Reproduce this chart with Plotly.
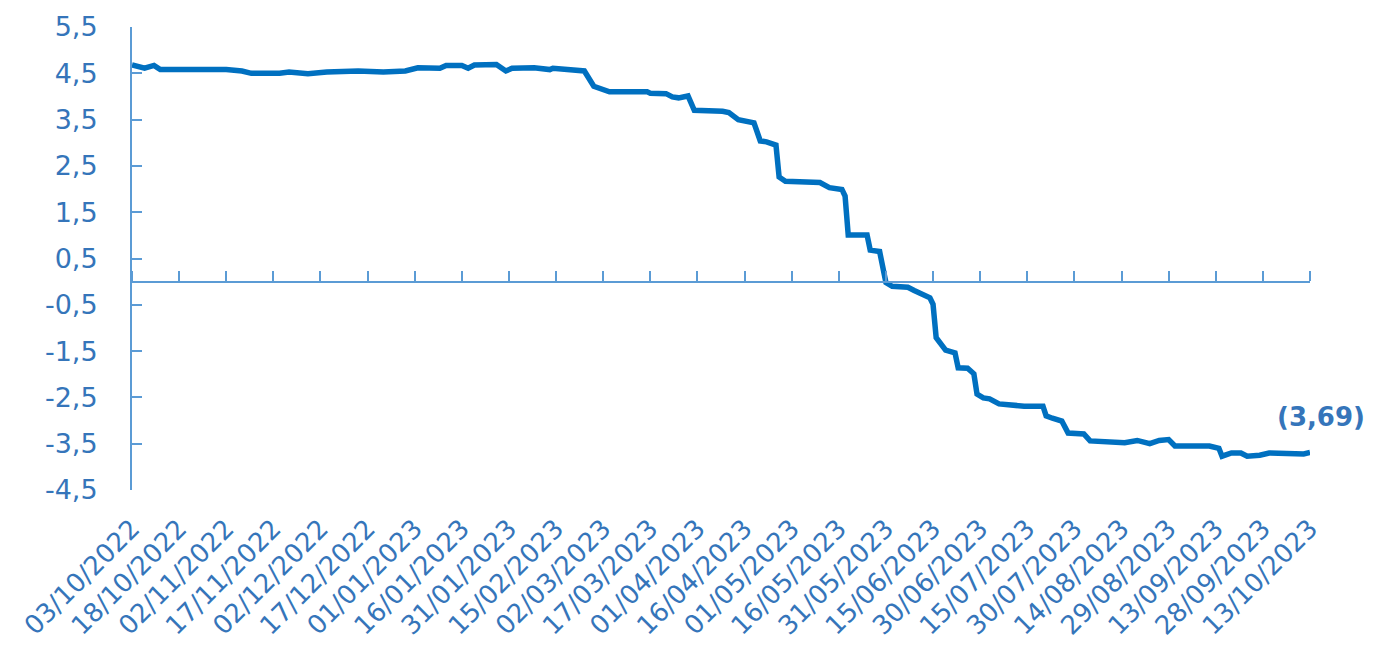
import plotly.graph_objects as go

# Data
dates = [
    "2022-10-03", "2022-10-07", "2022-10-10", "2022-10-12", "2022-11-02", "2022-11-07",
    "2022-11-10", "2022-11-19", "2022-11-22", "2022-11-24", "2022-11-28", "2022-12-04",
    "2022-12-14", "2022-12-22", "2022-12-29", "2023-01-02", "2023-01-09", "2023-01-11",
    "2023-01-16", "2023-01-18", "2023-01-20", "2023-01-27", "2023-01-30", "2023-02-01",
    "2023-02-08", "2023-02-13", "2023-02-14", "2023-02-24", "2023-02-27", "2023-03-04",
    "2023-03-16", "2023-03-17", "2023-03-22", "2023-03-24", "2023-03-26", "2023-03-29",
    "2023-03-31", "2023-04-09", "2023-04-11", "2023-04-14", "2023-04-19", "2023-04-21",
    "2023-04-23", "2023-04-26", "2023-04-27", "2023-04-29", "2023-05-03", "2023-05-10",
    "2023-05-13", "2023-05-17", "2023-05-18", "2023-05-19", "2023-05-25", "2023-05-26",
    "2023-05-29", "2023-05-31", "2023-06-02", "2023-06-07", "2023-06-09", "2023-06-14",
    "2023-06-15", "2023-06-16", "2023-06-19", "2023-06-22", "2023-06-23", "2023-06-26",
    "2023-06-28", "2023-06-29", "2023-07-01", "2023-07-03", "2023-07-06", "2023-07-11",
    "2023-07-14", "2023-07-20", "2023-07-21", "2023-07-23", "2023-07-26", "2023-07-28",
    "2023-08-02", "2023-08-04", "2023-08-11", "2023-08-15", "2023-08-19", "2023-08-23",
    "2023-08-26", "2023-08-29", "2023-08-31", "2023-09-11", "2023-09-14", "2023-09-15",
    "2023-09-18", "2023-09-21", "2023-09-23", "2023-09-27", "2023-09-30", "2023-10-08",
    "2023-10-11", "2023-10-13",
]
values = [
    4.68, 4.61, 4.67, 4.58, 4.58, 4.55,
    4.50, 4.50, 4.53, 4.52, 4.49, 4.53,
    4.55, 4.53, 4.55, 4.62, 4.61, 4.67,
    4.67, 4.61, 4.68, 4.69, 4.55, 4.61,
    4.62, 4.58, 4.61, 4.55, 4.22, 4.10,
    4.10, 4.07, 4.06, 3.99, 3.97, 4.01,
    3.70, 3.68, 3.65, 3.50, 3.43, 3.04,
    3.02, 2.95, 2.26, 2.17, 2.16, 2.14,
    2.03, 1.99, 1.85, 1.01, 1.01, 0.68,
    0.65, -0.02, -0.10, -0.12, -0.19, -0.35,
    -0.49, -1.21, -1.48, -1.54, -1.86, -1.87,
    -1.99, -2.43, -2.51, -2.53, -2.64, -2.67,
    -2.69, -2.69, -2.90, -2.95, -3.01, -3.27,
    -3.29, -3.44, -3.48, -3.48, -3.43, -3.50,
    -3.43, -3.41, -3.55, -3.55, -3.60, -3.77,
    -3.70, -3.70, -3.77, -3.75, -3.70, -3.70,
    -3.72, -3.69,
]

y_ticks = [5.5, 4.5, 3.5, 2.5, 1.5, 0.5, -0.5, -1.5, -2.5, -3.5, -4.5]
y_tick_labels = ["5,5", "4,5", "3,5", "2,5", "1,5", "0,5",
                 "-0,5", "-1,5", "-2,5", "-3,5", "-4,5"]

x_start = "2022-10-03"
x_end = "2023-10-13"
y_min, y_max = -4.5, 5.5

TEXT = "#3575BA"
AXIS = "#5B9BD5"
LINE = "#0070C0"
FONT = "DejaVu Sans"
DAY_MS = 86400000

end_label = "({:.2f})".format(abs(values[-1])).replace(".", ",")

fig = go.Figure()
# invisible helper trace so the zero-crossing axis is drawn
fig.add_trace(go.Scatter(x=dates, y=values, xaxis="x2", mode="lines",
                         line=dict(width=0, color="rgba(0,0,0,0)"),
                         hoverinfo="skip", showlegend=False))
fig.add_trace(go.Scatter(x=dates, y=values, mode="lines",
                         line=dict(color=LINE, width=5.5, shape="linear"),
                         showlegend=False))

fig.update_layout(
    width=1379, height=652,
    margin=dict(l=124, r=77, t=19, b=170),
    paper_bgcolor="white", plot_bgcolor="white",
    font=dict(family=FONT, size=26, color=TEXT),
    xaxis=dict(
        type="date", range=[x_start, x_end], automargin=False,
        tick0=x_start, dtick=15 * DAY_MS, tickformat="%d/%m/%Y",
        tickangle=-45, showline=False, showgrid=False, zeroline=False,
        ticks="outside", ticklen=12, tickcolor="rgba(0,0,0,0)",
        tickfont=dict(family=FONT, size=26, color=TEXT),
    ),
    xaxis2=dict(
        type="date", matches="x", overlaying="x", anchor="free", automargin=False,
        position=(0 - y_min) / (y_max - y_min), side="top",
        tick0=x_start, dtick=15 * DAY_MS,
        showline=True, linecolor=AXIS, linewidth=2,
        ticks="outside", ticklen=10, tickwidth=2, tickcolor=AXIS,
        showticklabels=False, showgrid=False, zeroline=False,
    ),
    yaxis=dict(
        range=[y_min, y_max], automargin=False,
        tickmode="array", tickvals=y_ticks, ticktext=y_tick_labels,
        showline=True, linecolor=AXIS, linewidth=2,
        ticks="inside", ticklen=10, tickwidth=2, tickcolor=AXIS,
        ticklabelstandoff=27,
        showgrid=False, zeroline=False,
        tickfont=dict(family=FONT, size=27, color=TEXT),
    ),
    annotations=[dict(
        x=x_end, y=-2.92, xref="x", yref="y", text="<b>" + end_label + "</b>",
        showarrow=False, xanchor="center", yanchor="middle", xshift=11,
        font=dict(family=FONT, size=26, color=TEXT),
    )],
)

fig.write_html("out.html")
